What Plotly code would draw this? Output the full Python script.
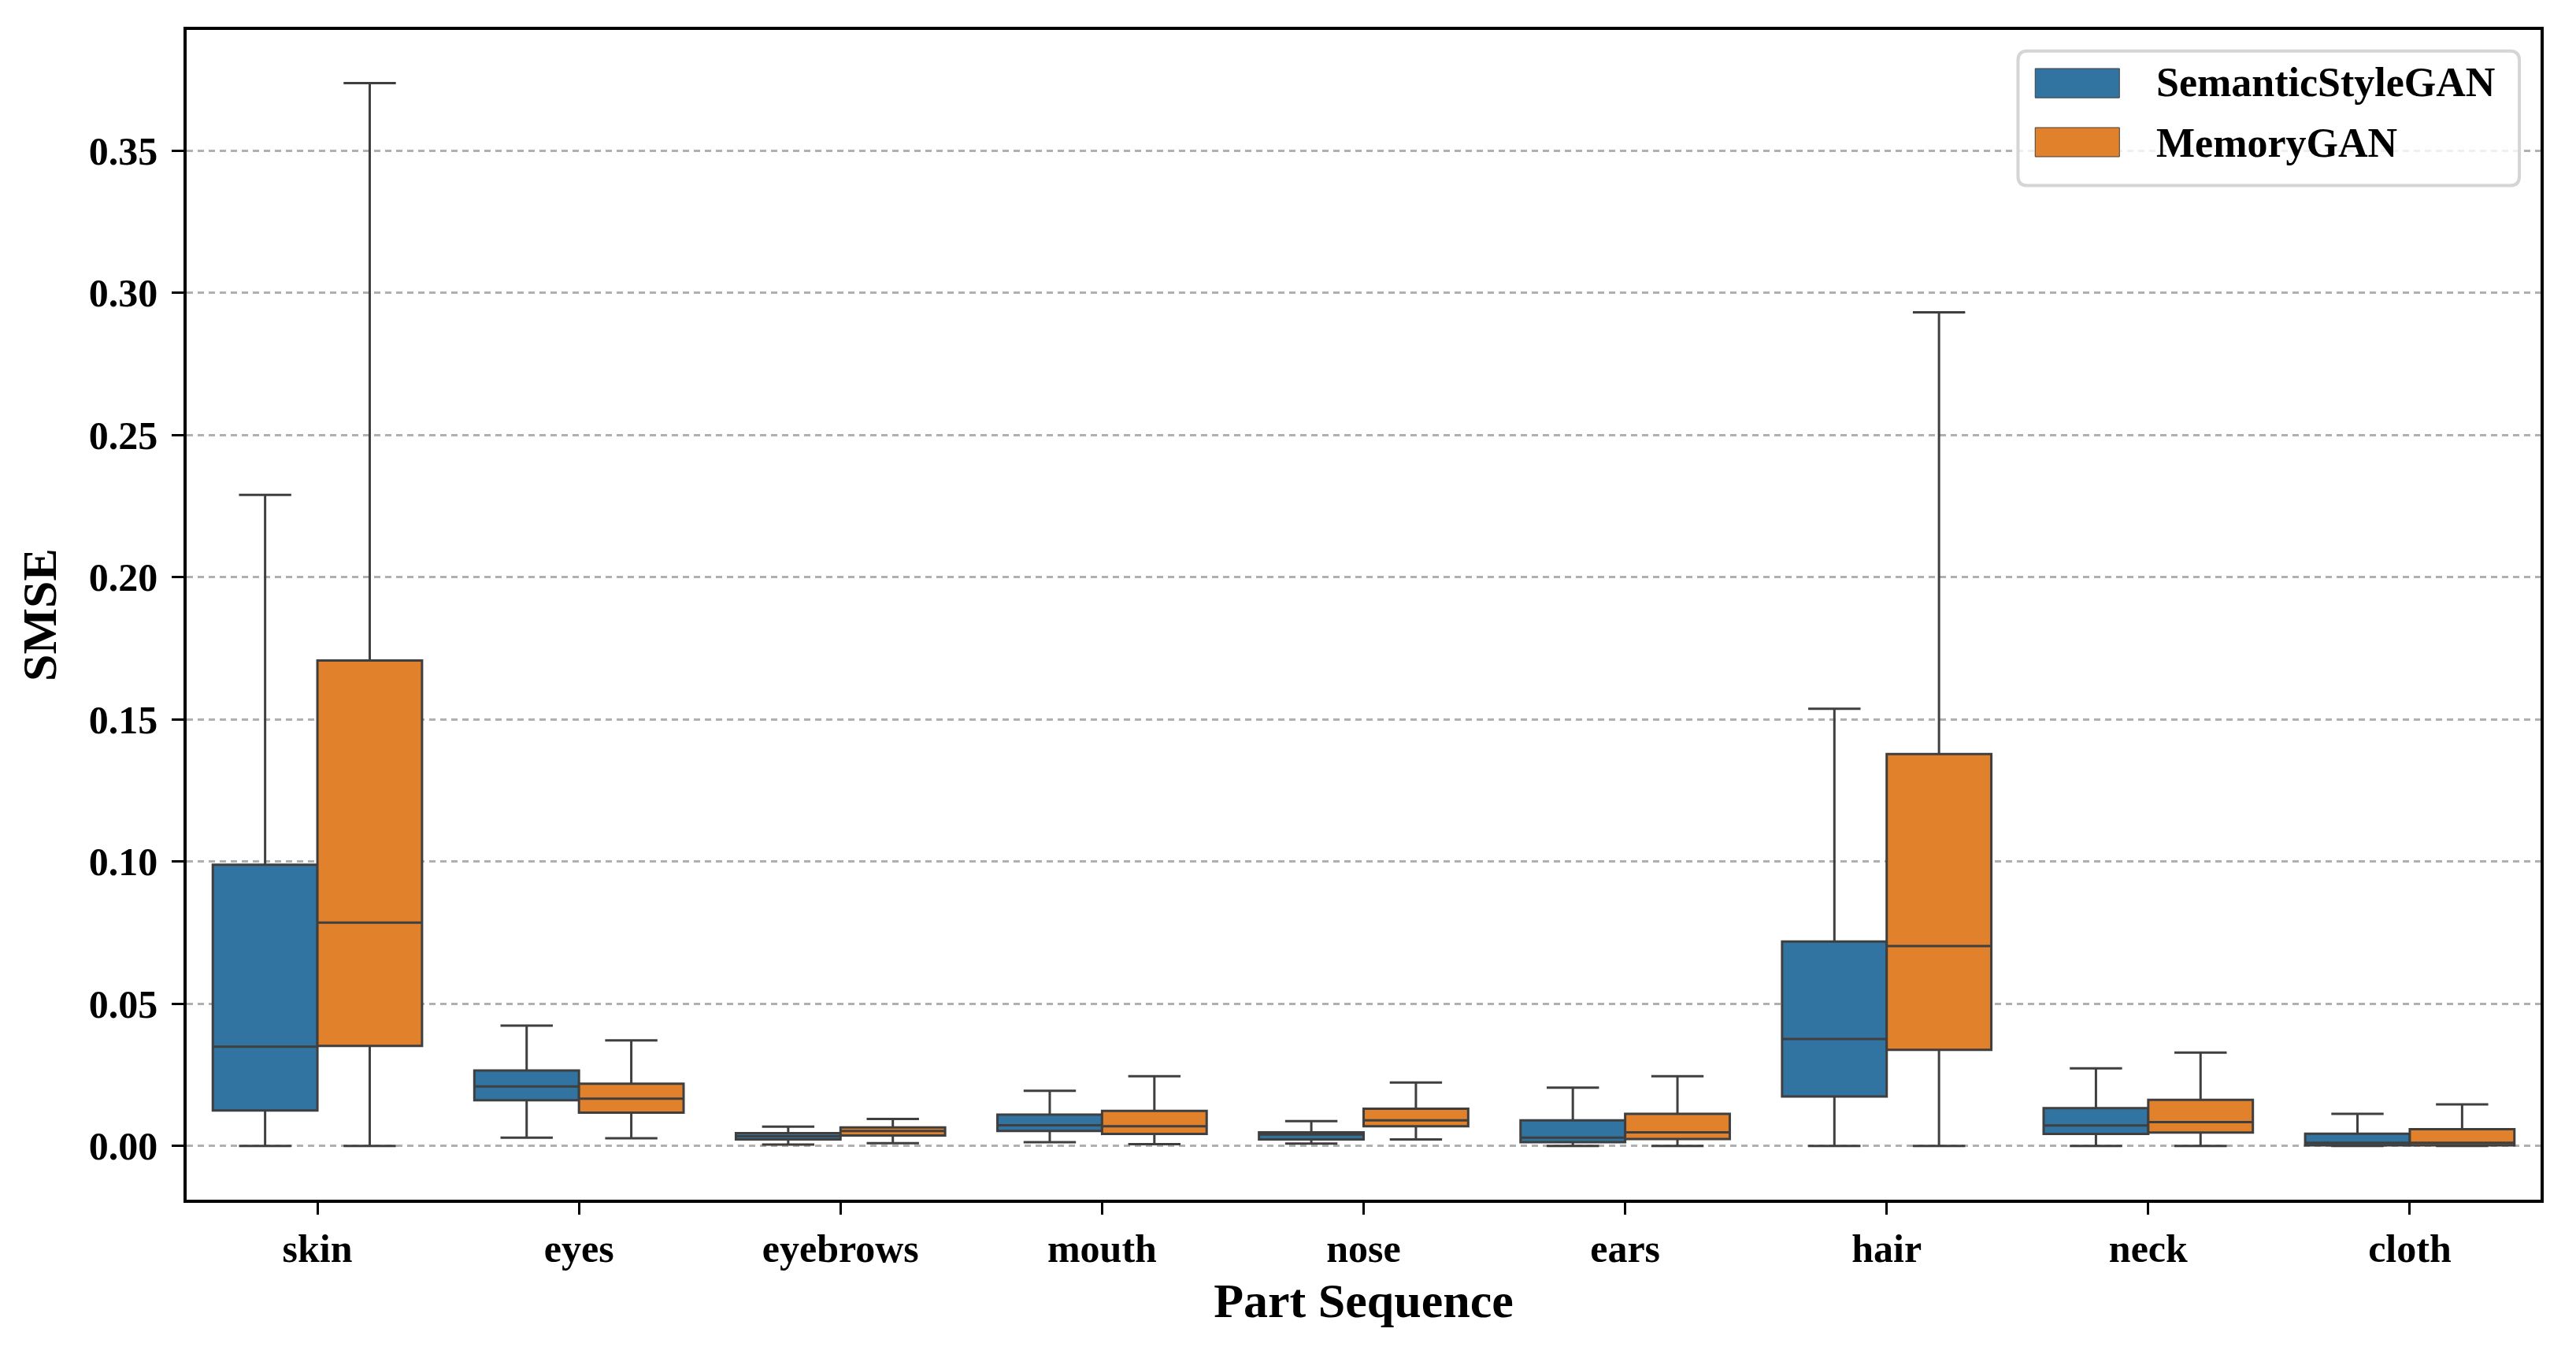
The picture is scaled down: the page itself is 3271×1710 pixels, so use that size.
import plotly.graph_objects as go

categories = ["skin", "eyes", "eyebrows", "mouth", "nose", "ears", "hair", "neck", "cloth"]

ssg_lower = [0.0, 0.0029, 0.0005, 0.0013, 0.0008, 0.0, 0.0, 0.0, 0.0]
ssg_q1 = [0.0125, 0.0161, 0.0023, 0.0053, 0.0023, 0.0013, 0.0174, 0.0042, 0.0002]
ssg_median = [0.0349, 0.0209, 0.0034, 0.0073, 0.0040, 0.0029, 0.0376, 0.0072, 0.0011]
ssg_q3 = [0.0989, 0.0265, 0.0045, 0.0110, 0.0048, 0.0090, 0.0719, 0.0133, 0.0043]
ssg_upper = [0.2289, 0.0423, 0.0068, 0.0194, 0.0087, 0.0205, 0.1537, 0.0273, 0.0113]

mg_lower = [0.0, 0.0027, 0.0010, 0.0006, 0.0023, 0.0, 0.0, 0.0, 0.0]
mg_q1 = [0.0352, 0.0117, 0.0037, 0.0042, 0.0069, 0.0024, 0.0338, 0.0047, 0.0002]
mg_median = [0.0785, 0.0166, 0.0053, 0.0069, 0.0090, 0.0048, 0.0703, 0.0084, 0.0011]
mg_q3 = [0.1707, 0.0219, 0.0065, 0.0123, 0.0131, 0.0113, 0.1378, 0.0162, 0.0059]
mg_upper = [0.3737, 0.0371, 0.0095, 0.0245, 0.0223, 0.0245, 0.2931, 0.0328, 0.0146]

series_names = ["SemanticStyleGAN", "MemoryGAN"]
series_colors = ["#3274a1", "#e1812c"]

y_ticks = [0.0, 0.05, 0.10, 0.15, 0.20, 0.25, 0.30, 0.35]

FONT = "Liberation Serif"
EDGE = "#3f3f3f"

fig = go.Figure()
stats = [
    (ssg_lower, ssg_q1, ssg_median, ssg_q3, ssg_upper),
    (mg_lower, mg_q1, mg_median, mg_q3, mg_upper),
]
for name, color, (lo, q1, med, q3, up) in zip(series_names, series_colors, stats):
    fig.add_trace(go.Box(
        x=categories, q1=q1, median=med, q3=q3, lowerfence=lo, upperfence=up,
        name=name, fillcolor=color, line=dict(color=EDGE, width=3),
        whiskerwidth=0.5, boxpoints=False, showlegend=False,
    ))

# legend drawn as a framed box (matplotlib style)
x0, x1, y0, y1 = 0.778, 0.991, 0.867, 0.982
rx, ry = 0.004, 0.008
path = (f"M {x0+rx},{y1} L {x1-rx},{y1} Q {x1},{y1} {x1},{y1-ry} "
        f"L {x1},{y0+ry} Q {x1},{y0} {x1-rx},{y0} L {x0+rx},{y0} "
        f"Q {x0},{y0} {x0},{y0+ry} L {x0},{y1-ry} Q {x0},{y1} {x0+rx},{y1} Z")
fig.add_shape(type="path", path=path, xref="paper", yref="paper",
              fillcolor="rgba(255,255,255,0.8)", line=dict(color="#d5d5d5", width=4), layer="above")
rows = [(0.967, 0.942, 0.9549), (0.9165, 0.8916, 0.9037)]
for (top, bot, mid), name, color in zip(rows, series_names, series_colors):
    fig.add_shape(type="rect", xref="paper", yref="paper", x0=0.7853, x1=0.8211, y0=bot, y1=top,
                  fillcolor=color, line=dict(color=EDGE, width=1), layer="above")
    fig.add_annotation(xref="paper", yref="paper", x=0.836, y=mid, text=name, showarrow=False,
                       xanchor="left", yanchor="middle",
                       font=dict(family=FONT, size=52, color="black", weight="bold"))

fig.update_layout(
    width=3255, height=1694, autosize=False,
    margin=dict(l=229, r=37, t=30, b=179),
    paper_bgcolor="white", plot_bgcolor="white",
    boxmode="group", boxgap=0.2, boxgroupgap=0.0,
    font=dict(family=FONT, color="black"),
)
fig.update_xaxes(
    range=[-0.5, 8.5], showline=True, mirror=True, linecolor="black", linewidth=3.5,
    ticks="outside", ticklen=15, tickwidth=3, tickcolor="black",
    tickfont=dict(family=FONT, size=50, weight="bold"), showgrid=False,
    title=dict(text="Part Sequence", font=dict(family=FONT, size=62, weight="bold"), standoff=18),
)
fig.update_yaxes(
    range=[-0.0189, 0.3924], tickvals=y_ticks, tickformat=".2f",
    showline=True, mirror=True, linecolor="black", linewidth=3.5,
    ticks="outside", ticklen=15, tickwidth=3, tickcolor="black", ticklabelstandoff=8,
    tickfont=dict(family=FONT, size=50, weight="bold"),
    showgrid=True, gridcolor="#b0b0b0", gridwidth=2.5, griddash="8px,6px",
    zeroline=False, layer="above traces",
    title=dict(text="SMSE", font=dict(family=FONT, size=62, weight="bold"), standoff=22),
)

fig.write_html("out.html")
